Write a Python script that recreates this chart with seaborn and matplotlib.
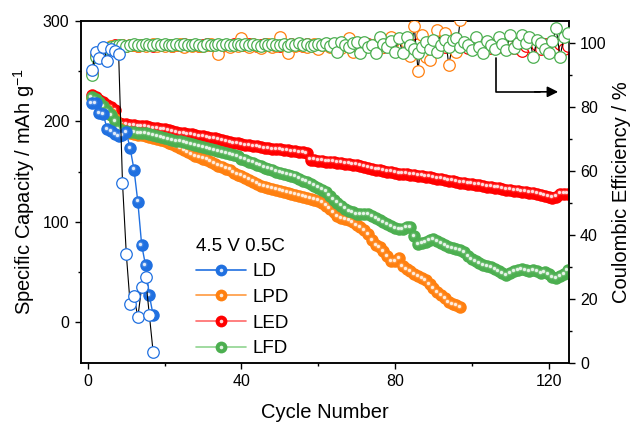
import numpy as np
import seaborn as sns
import matplotlib.pyplot as plt
import matplotlib.transforms as mtransforms
from matplotlib.lines import Line2D
from matplotlib.ticker import MultipleLocator
from matplotlib.legend_handler import HandlerTuple

# specific capacity (mAh/g), one value per cycle starting at cycle 1
ld_cap = [218, 218, 208, 207, 192, 190, 187, 185, 186, 189,
          173, 152, 120, 77, 57, 27, 7]

lpd_cap = [223, 221, 218, 215, 211, 207, 202, 193, 191, 189,
           188, 187, 186, 186, 185, 184, 183, 182, 181, 180,
           178, 177, 175, 173, 171, 169, 167, 165, 164, 163,
           162, 160, 158, 156, 155, 153, 152, 149, 147, 146,
           144, 142, 140, 138, 136, 135, 134, 133, 132, 131,
           130, 129, 128, 127, 126, 125, 124, 123, 122, 121,
           119, 116, 113, 110, 106, 104, 103, 102, 100, 97,
           95, 92, 88, 82, 77, 75, 71, 66, 61, 61,
           64, 56, 53, 51, 48, 46, 44, 42, 38, 34,
           30, 27, 24, 20, 18, 17, 15]

led_cap = [226, 224, 221, 219, 216, 214, 211, 198, 197, 197,
           196, 196, 195, 195, 195, 194, 193, 193, 192, 192,
           191, 190, 189, 188, 188, 187, 187, 186, 185, 185,
           184, 183, 183, 182, 181, 180, 179, 178, 178, 177,
           176, 176, 175, 175, 174, 173, 173, 172, 172, 172,
           171, 171, 170, 170, 169, 169, 168, 162, 162, 161,
           161, 160, 160, 160, 159, 159, 158, 158, 157, 157,
           156, 155, 154, 153, 152, 152, 151, 150, 150, 149,
           148, 148, 148, 147, 147, 146, 146, 145, 145, 144,
           143, 143, 142, 141, 141, 140, 139, 139, 138, 138,
           137, 137, 136, 135, 135, 134, 134, 133, 132, 132,
           131, 131, 130, 130, 129, 129, 128, 127, 126, 125,
           124, 125, 128, 128, 128]

lfd_cap = [224, 222, 219, 215, 210, 206, 200, 192, 190, 190,
           189, 189, 188, 188, 188, 187, 186, 185, 184, 183,
           182, 181, 180, 180, 179, 178, 177, 176, 175, 174,
           173, 172, 171, 170, 169, 168, 167, 166, 165, 163,
           162, 160, 159, 157, 156, 154, 153, 152, 150, 149,
           148, 147, 146, 145, 143, 141, 140, 138, 136, 134,
           132, 130, 126, 122, 119, 116, 113, 111, 110, 108,
           108, 108, 108, 106, 104, 102, 100, 98, 96, 94,
           93, 93, 95, 95, 86, 78, 79, 80, 82, 83,
           81, 79, 77, 75, 74, 73, 72, 70, 66, 63,
           61, 59, 57, 56, 55, 53, 51, 49, 47, 49,
           51, 52, 53, 52, 51, 52, 51, 49, 50, 48,
           45, 44, 46, 48, 52]

# coulombic efficiency (%)
ld_ce = [91.5, 97.0, 95.1, 98.6, 94.4, 97.9, 97.5, 96.5, 56.3, 33.9,
         18.3, 20.8, 14.2, 23.6, 26.7, 14.9, 3.2]

lpd_ce = [90.5, 96.2, 97.0, 98.0, 98.5, 99.0, 99.0,
          99.1, 99.3, 99.0, 99.2, 99.4, 99.1, 99.3, 98.9, 99.2, 99.5, 99.0, 99.3, 99.1,
          99.4, 99.0, 99.2, 99.5, 98.8, 99.3, 99.0, 99.4, 99.1, 98.9,
          99.3, 99.5, 99.0, 96.5, 99.2, 99.4, 98.7, 99.3, 99.0, 101.5,
          99.2, 98.6, 99.5, 99.0, 98.4, 99.3, 99.6, 98.8, 99.1, 101.7,
          99.0, 96.8, 99.4, 98.9, 99.5, 99.0, 98.6, 99.3, 99.7, 98.2,
          99.2, 99.6, 98.8, 99.3, 99.0, 98.5, 99.4, 101.6, 97.2, 99.1,
          99.5, 98.7, 99.3, 99.0, 99.6, 98.4, 99.2, 99.5, 101.8, 98.9,
          99.3, 98.7, 99.6, 95.8, 105.3, 91.3, 102.5, 95.4, 94.6, 99.0,
          104.0, 99.2, 103.2, 93.0, 99.4, 97.2, 107.2]

led_ce = [90.5, 96.0, 96.5, 97.5, 98.5, 98.8, 99.2,
          99.0, 99.2, 99.1, 99.3, 99.2, 99.0, 99.3, 99.4, 99.2, 99.1, 99.3, 99.4, 99.2,
          99.3, 99.1, 99.4, 99.2, 99.5, 99.3, 99.2, 99.4, 99.1, 99.3,
          99.5, 99.2, 99.4, 99.3, 99.1, 99.4, 99.2, 99.5, 99.3, 99.4,
          99.2, 99.5, 99.3, 99.1, 99.4, 99.6, 99.2, 99.3, 99.5, 99.1,
          99.4, 99.3, 99.6, 99.2, 99.4, 99.0, 99.5, 99.3, 99.1, 99.4,
          99.2, 99.6, 99.0, 99.4, 99.3, 98.8, 99.5, 99.2, 99.7, 98.9,
          99.4, 99.1, 99.6, 98.9, 99.3, 99.5, 98.7, 99.4, 99.0, 99.6,
          98.8, 99.3, 99.7, 98.6, 99.2, 99.5, 98.5, 99.6, 99.0, 98.7,
          99.4, 99.8, 98.6, 99.1, 99.5, 98.8, 99.3, 99.7, 98.5, 99.2,
          99.6, 98.7, 99.3, 99.8, 98.4, 99.2, 99.6, 98.6, 99.4, 99.0,
          98.3, 99.5, 97.3, 99.1, 99.7, 98.5, 99.2, 98.0, 99.6, 98.8,
          99.3, 97.8, 99.5, 98.2, 99.0]

lfd_ce = [90.0, 95.5, 96.5, 97.5, 98.3, 98.8, 99.0,
          99.2, 99.3, 99.1, 99.4, 99.6, 99.2, 99.3, 99.7, 99.4, 99.2, 99.5, 99.3, 99.6,
          99.4, 99.2, 99.6, 99.3, 99.5, 99.2, 99.4, 99.6, 99.3, 99.1,
          99.5, 99.4, 99.2, 99.6, 99.3, 99.5, 99.2, 99.4, 99.6, 99.3,
          99.5, 99.2, 99.6, 99.3, 99.1, 99.5, 99.4, 99.7, 99.2, 99.4,
          99.6, 99.1, 99.5, 99.3, 99.8, 99.2, 99.6, 99.0, 99.4, 99.7,
          99.3, 99.8, 99.0, 99.8, 97.2, 100.3, 99.3, 98.6, 99.8, 100.2,
          96.7, 100.3, 98.8, 99.3, 96.7, 101.9, 99.7, 98.8, 100.5, 97.2,
          101.4, 96.7, 101.9, 99.3, 98.1, 96.7, 98.8, 100.3, 98.2, 100.8,
          97.2, 99.3, 101.0, 98.8, 100.8, 101.4, 98.8, 100.2, 99.3, 97.6,
          101.9, 98.8, 96.7, 100.6, 99.3, 98.2, 101.9, 99.6, 97.7, 102.4,
          98.4, 99.8, 102.4, 99.8, 101.9, 95.6, 100.9, 99.8, 98.2, 96.7,
          100.4, 104.5, 95.6, 101.9, 102.9]

labels = ['LD', 'LPD', 'LED', 'LFD']
colors = ['#2070e0', '#ff8010', '#ff0000', '#4caf50']
line_colors = ['#2070e0', '#ff9a40', '#ff6a6a', '#90d490']

sns.set_theme(style="ticks")
plt.rcParams['font.family'] = ['Liberation Sans', 'DejaVu Sans']
plt.rcParams['mathtext.fontset'] = 'custom'
plt.rcParams['mathtext.rm'] = 'Liberation Sans'
plt.rcParams['mathtext.it'] = 'Liberation Sans:italic'
for k in ['text.color', 'axes.labelcolor', 'xtick.color', 'ytick.color', 'axes.edgecolor']:
    plt.rcParams[k] = 'black'

fig = plt.figure(figsize=(6.3, 4.25), dpi=100)
ax = fig.add_axes([0.128, 0.1466, 0.775, 0.8047])
ax2 = ax.twinx()

# small offset for the glossy highlight on filled markers
hl = mtransforms.offset_copy(ax.transData, fig=fig, x=-1.3, y=1.3, units='dots')

cap_data = [ld_cap, lpd_cap, led_cap, lfd_cap]
ce_data = [ld_ce, lpd_ce, led_ce, lfd_ce]
zorders = [6, 3, 2, 4]

for y, c, lc, z in zip(cap_data, colors, line_colors, zorders):
    x = list(range(1, len(y) + 1))
    sns.lineplot(x=x, y=y, ax=ax, color=lc, lw=1, marker='o', markersize=9,
                 markerfacecolor=c, markeredgewidth=0, sort=False,
                 estimator=None, legend=False, zorder=z)
    ax.plot(x, y, ls='none', marker='o', ms=4.2, mfc='white', alpha=0.15,
            mew=0, transform=hl, zorder=z)
    ax.plot(x, y, ls='none', marker='o', ms=2.4, mfc='white', alpha=0.85,
            mew=0, transform=hl, zorder=z)

for y, c, z in zip(ce_data, colors, zorders):
    x = list(range(1, len(y) + 1))
    sns.lineplot(x=x, y=y, ax=ax2, color='black', lw=0.8, marker='o',
                 markersize=8.3, markerfacecolor='white', markeredgecolor=c,
                 markeredgewidth=0.9, sort=False, estimator=None,
                 legend=False, zorder=z)

ax.set_xlim(-1.9, 125.3)
ax.set_ylim(-40, 300)
ax2.set_ylim(0, 106.9)

ax.xaxis.set_major_locator(MultipleLocator(40))
ax.xaxis.set_minor_locator(MultipleLocator(20))
ax.yaxis.set_major_locator(MultipleLocator(100))
ax.yaxis.set_minor_locator(MultipleLocator(50))
ax2.yaxis.set_major_locator(MultipleLocator(20))
ax2.yaxis.set_minor_locator(MultipleLocator(10))

for a in (ax, ax2):
    a.tick_params(which='major', direction='out', length=4.5, width=1,
                  labelsize=11.5)
    a.tick_params(which='minor', direction='out', length=2.5, width=1)
    for s in a.spines.values():
        s.set_linewidth(1.1)
ax.tick_params(which='both', top=False, right=False)
ax2.tick_params(which='both', left=False, top=False)

ax.set_xlabel('Cycle Number', fontsize=14.5, labelpad=10)
ax.set_ylabel('Specific Capacity / mAh g$^{-1}$', fontsize=14.5, labelpad=4)
ax2.set_ylabel('Coulombic Efficiency / %', fontsize=14.5)

# arrow pointing to the right axis
ax.plot([0.85, 0.85, 0.94], [0.89, 0.792, 0.792], transform=ax.transAxes,
        color='black', lw=1.2, zorder=10)
ax.annotate('', xy=(0.978, 0.792), xytext=(0.93, 0.792),
            xycoords='axes fraction', textcoords='axes fraction',
            arrowprops=dict(arrowstyle='-|>', color='black', lw=1.2,
                            mutation_scale=16, shrinkA=0, shrinkB=0))

handles = []
for c, lc in zip(colors, line_colors):
    base = Line2D([], [], color=lc, lw=1.2, marker='o', ms=8.5, mfc=c, mew=0)
    shine = Line2D([], [], ls='none', marker='o', ms=2.6, mfc='white', mew=0, alpha=0.85)
    handles.append((base, shine))

ax2.legend(handles, labels, handler_map={tuple: HandlerTuple(ndivide=1)},
           title='4.5 V 0.5C', title_fontsize=13.5, fontsize=13.5,
           alignment='left', frameon=False, loc='upper left',
           bbox_to_anchor=(0.236, 0.365), borderpad=0, borderaxespad=0,
           handlelength=2.7, handletextpad=0.3, labelspacing=0.45)

fig.savefig('out.png', dpi=100)
